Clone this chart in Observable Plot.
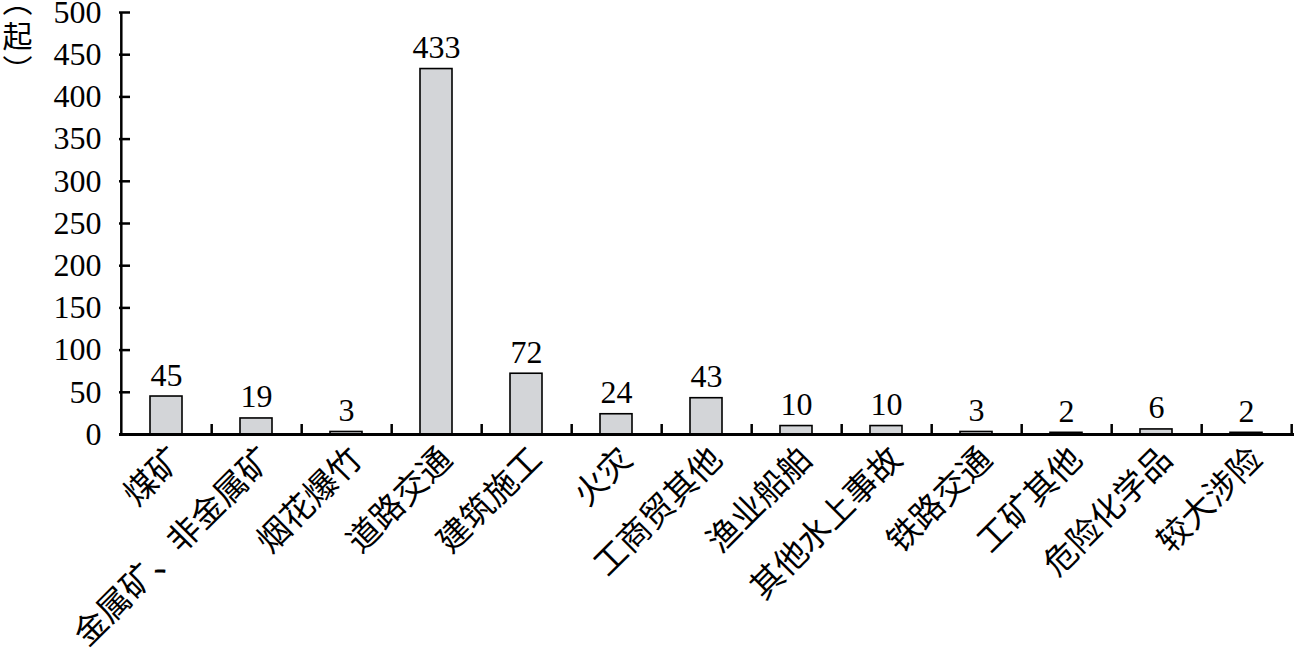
<!DOCTYPE html>
<html><head><meta charset="utf-8">
<script src="https://cdn.jsdelivr.net/npm/d3@7"></script>
<script src="https://cdn.jsdelivr.net/npm/@observablehq/plot@0.6"></script>
<style>body{margin:0;background:#fff}</style>
</head><body><div id="chart"></div>
<script>
const categories = ["煤矿","金属矿、非金属矿","烟花爆竹","道路交通","建筑施工","火灾","工商贸其他","渔业船舶","其他水上事故","铁路交通","工矿其他","危险化学品","较大涉险"];
const counts = [45,19,3,433,72,24,43,10,10,3,2,6,2];
const yTicks = [0,50,100,150,200,250,300,350,400,450,500];
const yUnitParts = ["︵", "起", "︶"];

const width = 1296, height = 650, ml = 119, mr = 2, mt = 12, mb = 216;
const step = (width - ml - mr) / categories.length;
const data = categories.map((c, i) => ({category: c, count: counts[i]}));
const serif = "Liberation Serif";
const cjk = "Noto Sans CJK SC";

const plot = Plot.plot({
  width, height, marginLeft: ml, marginRight: mr, marginTop: mt, marginBottom: mb,
  style: {background: "#fff", color: "#000", fontFamily: serif},
  x: {domain: categories, paddingInner: 0.64, paddingOuter: 0.32, axis: null},
  y: {domain: [0, 500], axis: null},
  marks: [
    Plot.barY(data, {x: "category", y: "count", fill: "#d3d5d8", stroke: "#000", strokeWidth: 1.6}),
    Plot.text(data, {x: "category", y: "count", text: d => String(d.count), lineAnchor: "bottom", dy: -11, fontSize: 32, fontFamily: serif, fill: "#000"}),
    Plot.tickX(categories, {x: d => d, dx: step / 2, insetTop: height - mt - mb - 10, stroke: "#000", strokeWidth: 2.5}),
    Plot.tickY(yTicks, {y: d => d, insetRight: width - ml - mr - 11, stroke: "#000", strokeWidth: 2.5}),
    Plot.ruleY([0], {stroke: "#000", strokeWidth: 3}),
    Plot.tickX([categories[0]], {x: d => d, dx: -step / 2, stroke: "#000", strokeWidth: 2.5}),
    Plot.text(yTicks, {y: d => d, text: d => String(d), frameAnchor: "left", textAnchor: "end", dx: -18, fontSize: 32, fontFamily: serif, fill: "#000"}),
    Plot.text(categories, {x: d => d, frameAnchor: "bottom", rotate: -45, textAnchor: "end", lineAnchor: "top", dx: 1, dy: 10, fontSize: 33, fontFamily: cjk, fill: "#000"}),
    Plot.text([yUnitParts[0]], {frameAnchor: "top-left", textAnchor: "middle", lineAnchor: "middle", dx: -102, dy: -10, fontSize: 30, fontFamily: cjk, fill: "#000"}),
    Plot.text([yUnitParts[1]], {frameAnchor: "top-left", textAnchor: "middle", lineAnchor: "middle", dx: -102, dy: 25, fontSize: 30, fontFamily: cjk, fill: "#000"}),
    Plot.text([yUnitParts[2]], {frameAnchor: "top-left", textAnchor: "middle", lineAnchor: "middle", dx: -102, dy: 59, fontSize: 30, fontFamily: cjk, fill: "#000"})
  ]
});
document.getElementById("chart").appendChild(plot);
</script>
</body></html>
